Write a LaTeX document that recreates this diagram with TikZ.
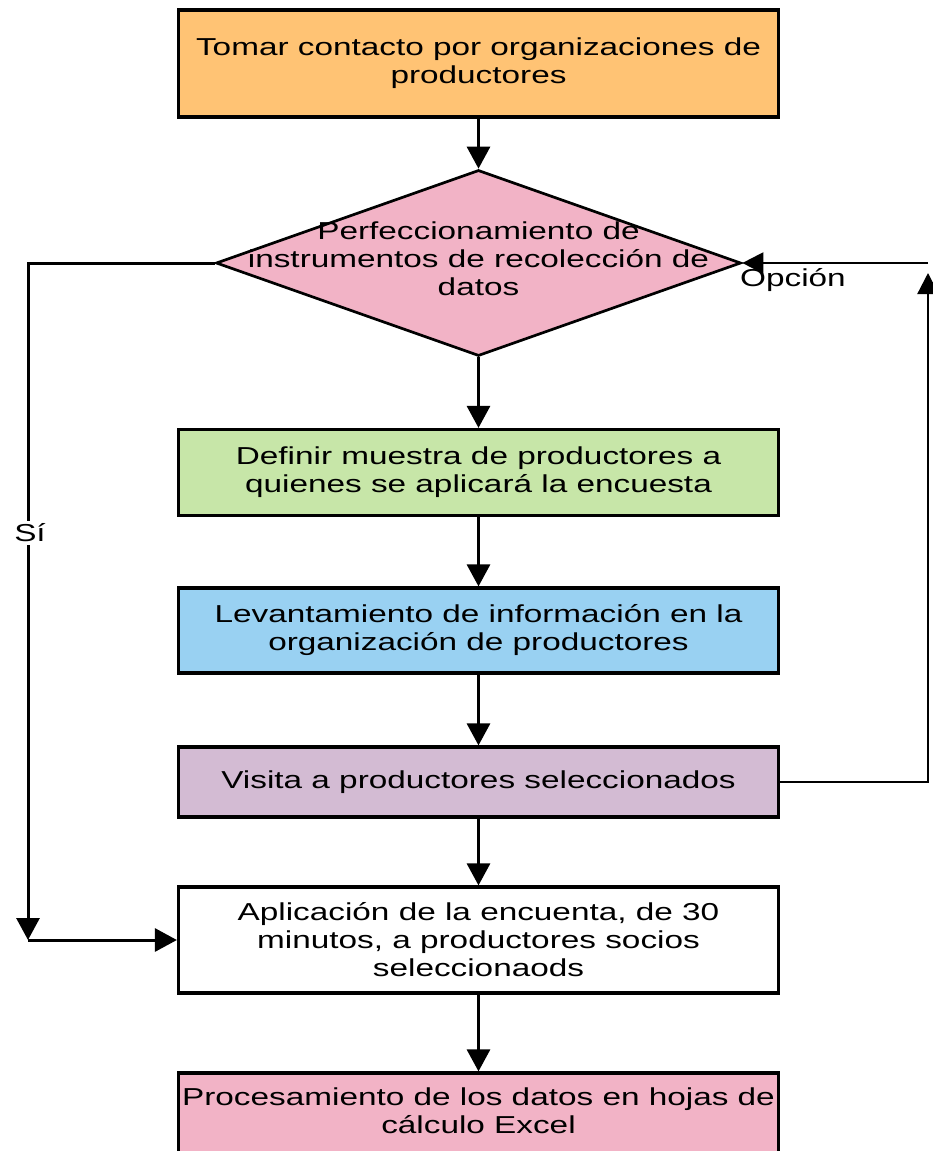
\documentclass[tikz,border=0pt]{standalone}
\usepackage{fontspec}
\setmainfont{Liberation Sans}[FakeStretch=1.36]
\usetikzlibrary{shapes.geometric,arrows.meta}
\definecolor{corange}{HTML}{FFC374}
\definecolor{cpink}{HTML}{F2B3C6}
\definecolor{cgreen}{HTML}{C7E6A8}
\definecolor{cblue}{HTML}{99D1F2}
\definecolor{cpurple}{HTML}{D3BBD3}
\begin{document}
\begin{tikzpicture}[x=1pt,y=-1pt,
  txt/.style={font=\fontsize{24.5}{28}\selectfont, align=center, text=black},
  box/.style={txt, draw=black, line width=3.2pt, minimum width=600pt, inner sep=0pt},
  conn/.style={line width=3pt, -{Triangle[length=22pt,width=23pt]}},
  thinconn/.style={line width=2.3pt, -{Triangle[length=21pt,width=21pt]}}
]
\useasboundingbox (0,0) rectangle (933,1151);
\clip (0,0) rectangle (933,1151);
\fill[white] (0,0) rectangle (933,1151);

\node[box, fill=corange, minimum height=107pt] (b1) at (478.5,63.5) {Tomar contacto por organizaciones de\\productores};
\node[diamond, draw=black, line width=2.7pt, fill=cpink, minimum width=525pt, minimum height=186pt, inner sep=0pt] (d) at (478.5,263) {};
\node[txt] (dt) at (478.5,259) {Perfeccionamiento de\\instrumentos de recolección de\\datos};
\node[box, fill=cgreen, minimum height=86pt] (b2) at (478.5,472.5) {Definir muestra de productores a\\quienes se aplicará la encuesta};
\node[box, fill=cblue, minimum height=85pt] (b3) at (478.5,630.5) {Levantamiento de información en la\\organización de productores};
\node[box, fill=cpurple, minimum height=70pt] (b4) at (478.5,782) {Visita a productores seleccionados};
\node[box, fill=white, minimum height=106pt] (b5) at (478.5,940) {Aplicación de la encuenta, de 30\\minutos, a productores socios\\seleccionaods};
\node[box, fill=cpink, minimum height=96pt] (b6) at (478.5,1121) {};
\node[txt] (b6t) at (478.5,1111) {Procesamiento de los datos en hojas de\\cálculo Excel};

\coordinate (cl) at (28,940);
\coordinate (crA) at (928,273);
\coordinate (crB) at (928,263);

\draw[conn] (b1.south) -- (d.north);
\draw[conn] (d.south) -- (b2.north);
\draw[conn] (b2.south) -- (b3.north);
\draw[conn] (b3.south) -- (b4.north);
\draw[conn] (b4.south) -- (b5.north);
\draw[conn] (b5.south) -- (b6.north);

\draw[conn] (d.west) -| (cl);
\draw[conn] (cl) -- (b5.west);
\draw[thinconn] (b4.east) -| (crA);
\draw[thinconn] (crB) -- (d.east);

\node[txt, fill=white, inner sep=3pt] (si) at (30,533) {Sí};
\node[txt, anchor=west, inner sep=0pt] (op) at (740,280) {Opción};
\end{tikzpicture}
\end{document}
